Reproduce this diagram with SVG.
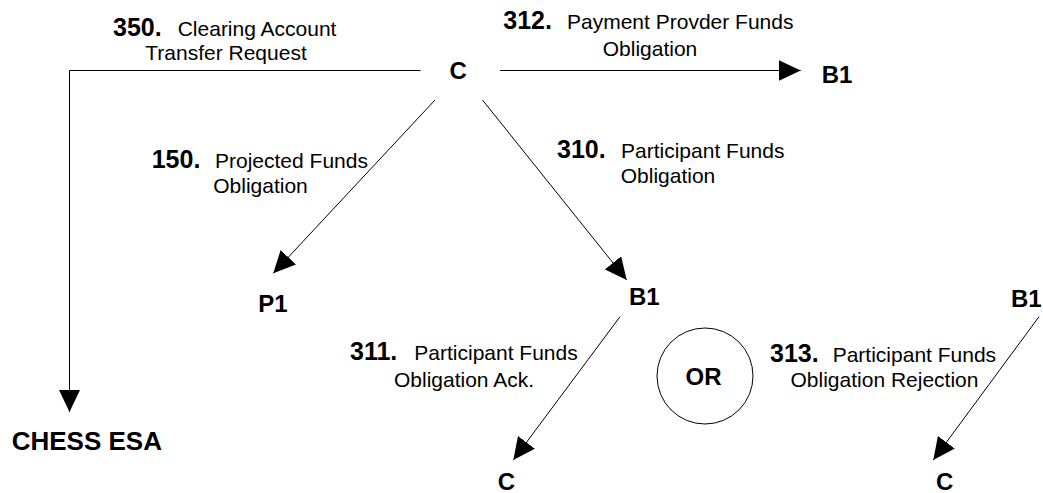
<svg xmlns="http://www.w3.org/2000/svg" width="1043" height="493" viewBox="0 0 1043 493">
  <defs>
    <!-- solid triangular arrowhead used by every message flow -->
    <marker id="arrow" markerUnits="userSpaceOnUse" markerWidth="22" markerHeight="21" viewBox="0 0 22 21" refX="22" refY="10.5" orient="auto">
      <path d="M0,0 L22,10.5 L0,21 Z" fill="#000"/>
    </marker>
    <style>
      .node { font-family: "Liberation Sans", Arial, sans-serif; font-weight: bold; font-size: 24px; fill: #000; }
      .num  { font-family: "Liberation Sans", Arial, sans-serif; font-weight: bold; font-size: 25px; fill: #000; }
      .lbl  { font-family: "Liberation Sans", Arial, sans-serif; font-size: 21px; fill: #000; }
      .mid  { text-anchor: middle; }
      .edge { fill: none; stroke: #000; stroke-width: 1; marker-end: url(#arrow); }
    </style>
  </defs>

  <rect width="1043" height="493" fill="#fff"/>

  <!-- message flows -->
  <g id="connectors">
    <path class="edge" d="M420.5,70.5 H69.5 V412"/>
    <line class="edge" x1="500" y1="70.5" x2="800.7" y2="70.5"/>
    <line class="edge" x1="435" y1="100" x2="273.3" y2="273.3"/>
    <line class="edge" x1="482.5" y1="100" x2="626.7" y2="280"/>
    <line class="edge" x1="620" y1="316.7" x2="513.3" y2="460"/>
    <line class="edge" x1="1039" y1="316.7" x2="933.3" y2="460"/>
  </g>

  <!-- message labels -->
  <g id="labels">
    <g id="msg-350">
      <text class="num" x="113" y="36">350.</text>
      <text class="lbl" x="177.7" y="36">Clearing Account</text>
      <text class="lbl mid" x="226" y="60">Transfer Request</text>
    </g>
    <g id="msg-312">
      <text class="num" x="503.3" y="29">312.</text>
      <text class="lbl" x="567" y="29">Payment Provder Funds</text>
      <text class="lbl mid" x="650" y="56">Obligation</text>
    </g>
    <g id="msg-150">
      <text class="num" x="151.7" y="168">150.</text>
      <text class="lbl" x="215" y="168">Projected Funds</text>
      <text class="lbl mid" x="260.5" y="193">Obligation</text>
    </g>
    <g id="msg-310">
      <text class="num" x="557" y="158">310.</text>
      <text class="lbl" x="621" y="158">Participant Funds</text>
      <text class="lbl mid" x="668" y="183">Obligation</text>
    </g>
    <g id="msg-311">
      <text class="num" x="350" y="360">311.</text>
      <text class="lbl" x="414.3" y="360">Participant Funds</text>
      <text class="lbl mid" x="464" y="386.5">Obligation Ack.</text>
    </g>
    <g id="msg-313">
      <text class="num" x="770" y="361.5">313.</text>
      <text class="lbl" x="832.7" y="361.5">Participant Funds</text>
      <text class="lbl mid" x="884.5" y="386.5">Obligation Rejection</text>
    </g>
  </g>

  <!-- parties -->
  <g id="node-c-top"><text class="node" x="449.5" y="79">C</text></g>
  <g id="node-b1-top"><text class="node" x="821.7" y="83">B1</text></g>
  <g id="node-p1"><text class="node" x="258.3" y="311.7">P1</text></g>
  <g id="node-b1-mid"><text class="node" x="629" y="305">B1</text></g>
  <g id="node-b1-right"><text class="node" x="1011" y="306.5">B1</text></g>
  <g id="node-c-ack"><text class="node" x="497.7" y="490">C</text></g>
  <g id="node-c-rej"><text class="node" x="936" y="490">C</text></g>
  <g id="node-chess-esa"><text class="node" x="11.7" y="450" style="font-size:26px">CHESS ESA</text></g>
  <g id="node-or">
    <circle cx="705" cy="376" r="48" fill="none" stroke="#000" stroke-width="1"/>
    <text class="node mid" x="703.5" y="385">OR</text>
  </g>
</svg>
